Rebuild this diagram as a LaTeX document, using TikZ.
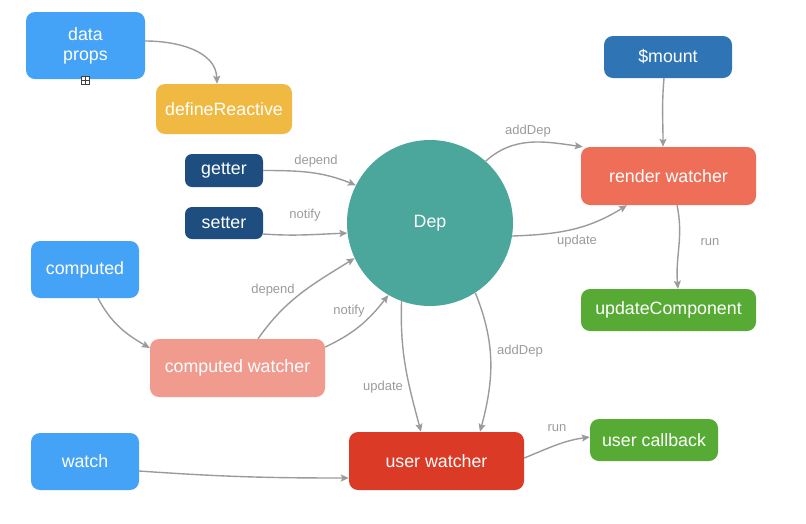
\documentclass[tikz,border=0pt]{standalone}
\usepackage{fontspec}
\setmainfont{Liberation Sans}
\usetikzlibrary{arrows.meta}

\definecolor{srcblue}{HTML}{44A2F7}
\definecolor{reactyellow}{HTML}{F0BA42}
\definecolor{accessor}{HTML}{1E4E7F}
\definecolor{depteal}{HTML}{4BA69B}
\definecolor{mountblue}{HTML}{2F74B4}
\definecolor{renderred}{HTML}{EE6E58}
\definecolor{okgreen}{HTML}{57AB35}
\definecolor{cwpink}{HTML}{F19B8F}
\definecolor{userred}{HTML}{DA3A26}
\definecolor{linegray}{HTML}{9B9B9B}

\begin{document}
\begin{tikzpicture}[x=1pt,y=-1pt,
  box/.style={rounded corners=9pt, text=white, inner sep=0pt, align=center,
              font=\fontsize{17.8}{21}\selectfont},
  conn/.style={draw=linegray, line width=1.4pt,
               -{Stealth[length=8pt,width=7pt,inset=1.5pt]}},
  lbl/.style={text=linegray, inner sep=0pt, font=\fontsize{13}{15}\selectfont}
]
\useasboundingbox (0,0) rectangle (806,523);

% ---- nodes ----
\node[box, fill=srcblue, minimum width=119pt, minimum height=67pt] (data) at (85.5,45.5) {data\\[-1pt]props};
\node[box, fill=reactyellow, minimum width=136pt, minimum height=50pt] (def) at (224,109) {defineReactive};
\node[box, fill=accessor, minimum width=78pt, minimum height=33pt, rounded corners=7pt] (getter) at (224,170.5) {getter};
\node[box, fill=accessor, minimum width=78pt, minimum height=32pt, rounded corners=7pt] (setter) at (224,223) {setter};
\node[circle, fill=depteal, text=white, minimum size=166pt, inner sep=0pt,
      font=\fontsize{17.8}{21}\selectfont] (dep) at (430,223) {Dep};
\node[box, fill=mountblue, minimum width=128pt, minimum height=42pt] (mount) at (668,57) {\$mount};
\node[box, fill=renderred, minimum width=175pt, minimum height=58pt] (rw) at (668.5,176) {render watcher};
\node[box, fill=okgreen, minimum width=175pt, minimum height=42pt] (uc) at (668.5,310) {updateComponent};
\node[box, fill=srcblue, minimum width=108pt, minimum height=57pt] (computed) at (85,269.5) {computed};
\node[box, fill=cwpink, minimum width=175pt, minimum height=58pt] (cw) at (237.5,368) {computed watcher};
\node[box, fill=srcblue, minimum width=108pt, minimum height=57pt] (watch) at (85,461.5) {watch};
\node[box, fill=userred, minimum width=175pt, minimum height=58pt] (uw) at (436.5,461) {user watcher};
\node[box, fill=okgreen, minimum width=128pt, minimum height=42pt] (cb) at (654,440) {user callback};

% small expand marker under the data/props box
\node[draw=black!75, line width=0.7pt, minimum size=8pt, inner sep=0pt, fill=white,
      path picture={\draw[black!75, line width=0.7pt]
        (path picture bounding box.north) -- (path picture bounding box.south)
        (path picture bounding box.west) -- (path picture bounding box.east);}]
      (expander) at (85.5,80) {};

% ---- connectors ----
\draw[conn] ([yshift=4.5pt]data.east) to[out=0,in=92] ([xshift=-7pt]def.north);
\draw[conn] (getter.east) to[out=0,in=158] (dep.153);
\draw[conn] ([yshift=-11pt]setter.east) to[out=-4,in=182] (dep.187);
\draw[conn] ([xshift=13pt]computed.south) to[out=-62,in=150] ([yshift=20pt]cw.west);
\draw[conn] ([xshift=20.5pt]cw.north) to[out=55,in=212] (dep.205);
\draw[conn] ([yshift=21pt]cw.east) to[out=25,in=232] (dep.240);
\draw[conn] (dep.250) to[out=268,in=105] ([xshift=-15.5pt]uw.north);
\draw[conn] (dep.-57) to[out=-68,in=75] ([xshift=43.5pt]uw.north);
\draw[conn] ([yshift=-9.5pt]watch.east) to[out=-4,in=180] ([yshift=-17pt]uw.west);
\draw[conn] ([yshift=3pt]uw.east) to[out=22,in=188] ([yshift=3pt]cb.west);
\draw[conn] (dep.48) to[out=42,in=172] ([xshift=2pt]rw.north west);
\draw[conn] (dep.-9) to[out=2,in=-148] ([xshift=-41.5pt]rw.south);
\draw[conn] ([xshift=-4pt]mount.south) to[out=265,in=90] ([xshift=-5.5pt]rw.north);
\draw[conn] ([xshift=8.5pt]rw.south) to[out=-78,in=95] ([xshift=9.5pt]uc.north);

% ---- connector labels ----
\node[lbl] (l-adddep-r) at (528,131) {addDep};
\node[lbl] (l-depend-g) at (316,161) {depend};
\node[lbl] (l-notify-s) at (305,215) {notify};
\node[lbl] (l-update-r) at (577,241) {update};
\node[lbl] (l-run-r) at (710,242) {run};
\node[lbl] (l-depend-c) at (273,290) {depend};
\node[lbl] (l-notify-c) at (349,311) {notify};
\node[lbl] (l-update-u) at (383,387) {update};
\node[lbl] (l-adddep-u) at (520,351) {addDep};
\node[lbl] (l-run-u) at (557,428) {run};
\end{tikzpicture}
\end{document}
